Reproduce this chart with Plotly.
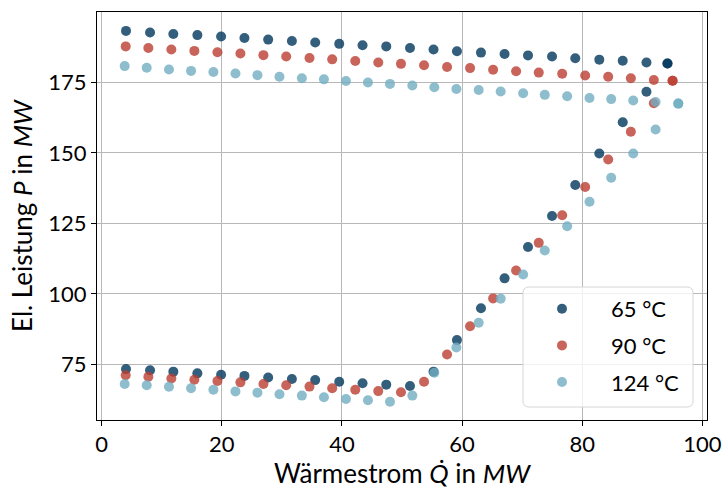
import plotly.graph_objects as go

# Heat flow Q (MW) and electrical power P (MW) for three supply temperatures.
# Each temperature has an upper and a lower operating branch.
q_65 = [4.05, 8.05, 11.93, 15.93, 19.88, 23.77, 27.72, 31.67, 35.55, 39.55, 43.43, 47.38,
        51.33, 55.25, 59.15, 63.15, 67.08, 70.98, 74.98, 78.85, 82.85, 86.75, 90.7, 94.2]
p_65_upper = [193.3, 192.7, 192.2, 191.8, 191.3, 190.8, 190.2, 189.7, 189.2, 188.7, 188.2, 187.8,
              187.2, 186.7, 186.1, 185.6, 185.1, 184.6, 184.2, 183.6, 183.1, 182.7, 182.1, 181.7]
p_65_lower = [73.3, 72.9, 72.4, 71.8, 71.3, 70.9, 70.3, 69.8, 69.4, 68.8, 68.3, 67.8,
              67.3, 72.4, 83.6, 94.9, 105.5, 116.6, 127.6, 138.6, 149.8, 160.9, 171.7, 181.7]

q_90 = [4.0, 7.77, 11.6, 15.43, 19.27, 23.1, 26.93, 30.72, 34.6, 38.38, 42.22, 46.05,
        49.83, 53.67, 57.5, 61.33, 65.17, 69.0, 72.77, 76.67, 80.5, 84.33, 88.1, 91.93, 95.05]
p_90_upper = [187.8, 187.2, 186.7, 186.2, 185.7, 185.3, 184.7, 184.2, 183.7, 183.2, 182.6, 182.1,
              181.6, 181.1, 180.5, 180.1, 179.5, 179.0, 178.5, 178.1, 177.5, 177.0, 176.5, 175.9, 175.6]
p_90_lower = [71.1, 70.6, 70.0, 69.5, 69.1, 68.6, 68.0, 67.6, 67.1, 66.5, 66.0, 65.5,
              65.1, 68.8, 78.5, 88.5, 98.4, 108.3, 118.1, 127.9, 137.9, 147.7, 157.5, 167.6, 175.6]

q_124 = [3.83, 7.5, 11.2, 14.88, 18.6, 22.27, 25.93, 29.6, 33.33, 37.0, 40.67, 44.33, 48.0,
         51.72, 55.38, 59.05, 62.77, 66.43, 70.17, 73.77, 77.5, 81.22, 84.83, 88.5, 92.22, 96.0]
p_124_upper = [180.8, 180.2, 179.6, 179.1, 178.7, 178.2, 177.6, 177.0, 176.5, 176.1, 175.5, 175.0, 174.5,
               173.9, 173.3, 172.7, 172.3, 171.8, 171.2, 170.6, 170.1, 169.5, 169.1, 168.6, 168.1, 167.5]
p_124_lower = [68.0, 67.55, 67.05, 66.5, 66.0, 65.4, 64.95, 64.4, 63.9, 63.3, 62.7, 62.25, 61.7,
               63.9, 72.0, 81.0, 89.75, 98.3, 106.9, 115.4, 124.0, 132.7, 141.2, 149.8, 158.3, 167.5]

labels = ["65 °C", "90 °C", "124 °C"]
colors = ["rgb(0,55,92)", "rgb(186,61,49)", "rgb(114,174,194)"]

x_ticks = [0, 20, 40, 60, 80, 100]
y_ticks = [75, 100, 125, 150, 175]

series = [
    (q_65, p_65_upper, p_65_lower),
    (q_90, p_90_upper, p_90_lower),
    (q_124, p_124_upper, p_124_lower),
]

fig = go.Figure()
for (q, upper, lower), name, color in zip(series, labels, colors):
    fig.add_trace(go.Scatter(
        x=q + q,
        y=upper + lower,
        mode="markers",
        name=name,
        legendgroup=name,
        marker=dict(size=10, color=color, opacity=0.8, line=dict(width=0)),
    ))

# plot area in pixels, used to place the legend frame
W, H = 723, 493
ML, MR, MT, MB = 97, 16, 12, 73
pw, ph = W - ML - MR, H - MT - MB


def px_x(v):
    return (v - ML) / pw


def px_y(v):
    return (H - MB - v) / ph


# rounded, semi-transparent frame behind the legend entries
x0, x1, y0, y1, r = px_x(523), px_x(693), px_y(407), px_y(287), 6
rx, ry = r / pw, r / ph
frame = (
    f"M {x0 + rx},{y0} L {x1 - rx},{y0} Q {x1},{y0} {x1},{y0 + ry} "
    f"L {x1},{y1 - ry} Q {x1},{y1} {x1 - rx},{y1} "
    f"L {x0 + rx},{y1} Q {x0},{y1} {x0},{y1 - ry} "
    f"L {x0},{y0 + ry} Q {x0},{y0} {x0 + rx},{y0} Z"
)
fig.add_shape(type="path", path=frame, xref="paper", yref="paper",
              fillcolor="rgba(255,255,255,0.8)", line=dict(color="#d6d6d6", width=1),
              layer="above")

axis_common = dict(
    showline=True, linecolor="black", linewidth=1, mirror=True,
    ticks="outside", ticklen=5, tickwidth=1, tickcolor="black",
    showgrid=True, gridcolor="#b8b8b8", gridwidth=1,
    zeroline=False, automargin=False,
    tickfont=dict(family="Lato", size=22, color="black"),
)

fig.update_layout(
    width=W, height=H,
    margin=dict(l=ML, r=MR, t=MT, b=MB),
    paper_bgcolor="white", plot_bgcolor="white",
    font=dict(family="Lato", color="black"),
    xaxis=dict(
        range=[-0.78, 100.78], tickvals=x_ticks,
        title=dict(text="Wärmestrom <i>Q̇</i> in <i>MW</i>",
                   font=dict(family="Lato", size=26), standoff=6),
        **axis_common,
    ),
    yaxis=dict(
        range=[55.25, 200.0], tickvals=y_ticks,
        title=dict(text="El. Leistung <i>P</i> in <i>MW</i>",
                   font=dict(family="Lato", size=26), standoff=8),
        **axis_common,
    ),
    legend=dict(
        x=px_x(513), y=px_y(288), xanchor="left", yanchor="top",
        bgcolor="rgba(0,0,0,0)", borderwidth=0,
        font=dict(family="Lato", size=22, color="black"),
        itemwidth=88,
        tracegroupgap=5,
    ),
    showlegend=True,
)

fig.write_html("out.html")
